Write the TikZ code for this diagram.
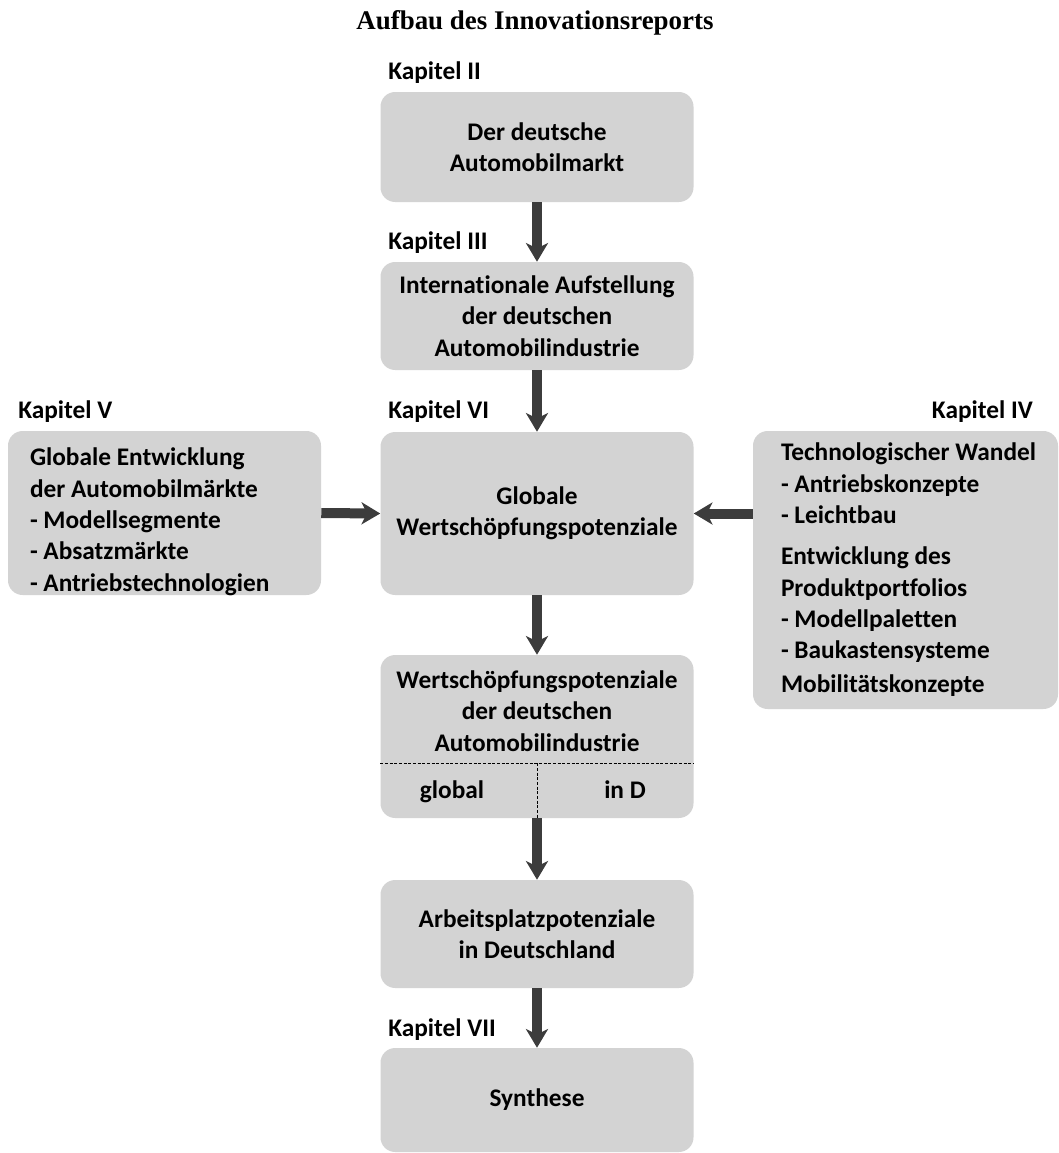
\documentclass[tikz,border=0pt]{standalone}
\usepackage{fontspec}
\setmainfont{Carlito}[Ligatures=NoCommon]
\newfontfamily\titlefont{Liberation Serif}
\usetikzlibrary{arrows.meta}
\definecolor{arbox}{HTML}{D3D3D3}
\definecolor{arline}{HTML}{3C3C3C}
\tikzset{
  chbox/.style={fill=arbox,rounded corners=11pt,minimum width=234.75pt,align=center,inner sep=0pt},
  boxtxt/.style={align=center,inner sep=0pt},
  sidetxt/.style={align=left,inner sep=0pt,anchor=west},
  chlabel/.style={inner sep=0pt},
  flow/.style={arline,line width=7.5pt,-{Stealth[length=14pt,width=16.5pt,inset=4pt]}},
  divider/.style={black,line width=0.5pt,dash pattern=on 2.2pt off 1.3pt},
}

\begin{document}
\begin{tikzpicture}[x=0.75pt,y=-0.75pt,font=\bfseries\fontsize{19}{23.5}\selectfont]
  \useasboundingbox (0,0) rectangle (1058,1153);
  \node[font=\titlefont\bfseries\fontsize{20.2}{24}\selectfont] (title) at (535,23) {Aufbau des Innovationsreports};

  % mittlere Spalte
  \node[chbox,minimum height=82.5pt] (markt) at (537,147) {Der deutsche\\Automobilmarkt};
  \node[chbox,minimum height=81pt] (intl) at (537,316) {Internationale Aufstellung\\der deutschen\\Automobilindustrie};
  \node[chbox,minimum height=122.25pt] (global) at (537,513.5) {Globale\\Wertschöpfungspotenziale};
  \node[chbox,minimum height=122.25pt] (wsp) at (537,736.5) {};
  \node[boxtxt] (wsptxt) at (537,711) {Wertschöpfungspotenziale\\der deutschen\\Automobilindustrie};
  \node[boxtxt,anchor=base] (wspglob) at (452,798) {global};
  \node[boxtxt,anchor=base] (wspind) at (625,798) {in D};
  \draw[divider] ([yshift=41.25pt]wsp.south west) -- ([yshift=41.25pt]wsp.south east);
  \draw[divider] ([yshift=41.25pt]wsp.south) -- (wsp.south);
  \node[chbox,minimum height=81pt] (arbeit) at (537,934) {Arbeitsplatzpotenziale\\in Deutschland};
  \node[chbox,minimum height=78pt] (synth) at (537,1100) {Synthese};

  % Seitenkaesten
  \node[chbox,minimum height=123pt] (maerkte) at (164.5,513) {};
  \node[sidetxt] (maerktetxt) at ([xshift=16.5pt,yshift=-6.5pt]maerkte.west) {Globale Entwicklung\\der Automobilmärkte\\- Modellsegmente\\- Absatzmärkte\\- Antriebstechnologien};
  \node[chbox,minimum width=228.75pt,minimum height=208.5pt] (technik) at (905.5,570) {};
  \node[sidetxt] (techniktxt) at ([xshift=21pt]technik.west) {Technologischer Wandel\\- Antriebskonzepte\\- Leichtbau\\[7.5pt]Entwicklung des\\Produktportfolios\\- Modellpaletten\\- Baukastensysteme\\[2pt]Mobilitätskonzepte};

  % Kapitel
  \node[chlabel,anchor=west] (k2) at (388,73) {Kapitel II};
  \node[chlabel,anchor=west] (k3) at (388,243) {Kapitel III};
  \node[chlabel,anchor=west] (k6) at (388,412) {Kapitel VI};
  \node[chlabel,anchor=west] (k5) at (18,412) {Kapitel V};
  \node[chlabel,anchor=east] (k4) at (1033,412) {Kapitel IV};
  \node[chlabel,anchor=west] (k7) at (388,1030) {Kapitel VII};

  % Pfeile
  \draw[flow] (markt) -- (intl);
  \draw[flow] (intl) -- (global);
  \draw[flow] (maerkte.east) -- (global.west);
  \draw[flow] (technik.west |- global.west) -- (global.east);
  \draw[flow] (global) -- (wsp);
  \draw[flow] (wsp) -- (arbeit);
  \draw[flow] (arbeit) -- (synth);
\end{tikzpicture}
\end{document}
